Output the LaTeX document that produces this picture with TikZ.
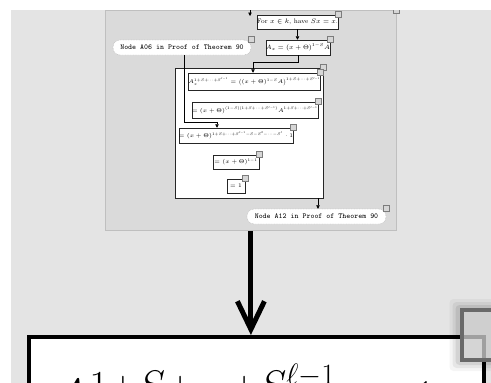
\RequirePackage{fix-cm}
\documentclass[tikz,border=0pt]{standalone}
\usepackage{amsmath}
\usetikzlibrary{arrows.meta,calc,shadows}
\definecolor{canvas}{HTML}{E4E4E4}
\definecolor{panelfill}{HTML}{DADADA}
\definecolor{panelline}{HTML}{BFBFBF}
\definecolor{gripfill}{HTML}{D6D6D6}
\definecolor{gripline}{HTML}{7C7C7C}
\tikzset{
  stepbox/.style={draw=black!85, fill=white, line width=0.5pt, inner sep=0pt,
    drop shadow={shadow xshift=0.6pt, shadow yshift=-0.6pt, opacity=0.2},
    font=\fontsize{5.5}{6}\selectfont},
  pill/.style={draw=black!30, dash pattern=on 0.8pt off 0.8pt, fill=white,
    rounded corners=7pt, inner sep=0pt,
    font=\fontsize{7.5}{8}\selectfont\ttfamily},
  chainbox/.style={draw=black!85, fill=white, line width=0.5pt, inner sep=0pt},
  groupbox/.style={draw=panelline, fill=panelfill, line width=0.8pt, inner sep=0pt},
  conn/.style={draw=black, line width=0.6pt, -{Triangle[length=3.5pt,width=3.5pt]}},
  grip/.style={draw=gripline, fill=gripfill, line width=0.7pt},
  bigbox/.style={draw=black, line width=4pt, fill=white, align=left,
    inner xsep=17pt, inner ysep=27pt, font=\fontsize{59}{64}\selectfont},
}
\begin{document}
\begin{tikzpicture}[x=1pt,y=-1pt]
\useasboundingbox (0,0) rectangle (491,383);
\fill[canvas] (11,10) rectangle (491,383);
\begin{scope}
\clip (11,10) rectangle (491,383);

% the group frame and the edge entering it from above
\node[groupbox, anchor=north west, minimum width=291pt, minimum height=220pt] (group) at (105,10) {};
\coordinate (inTop) at (250,0);
\coordinate (inEnd) at (250,16);
\draw[conn] (inTop) -- (inEnd);

% steps inside the group
\node[stepbox, minimum width=71pt, minimum height=14pt, font=\fontsize{6.5}{7}\selectfont] (fix) at (297.5,22) {For $x\in k$, have $Sx=x$.};
\node[stepbox, minimum width=62pt, minimum height=15pt, font=\fontsize{6.3}{7}\selectfont] (ax) at (298,47.5) {$A_x=(x+\Theta)^{1-S}A$};
\node[pill, minimum width=138pt, minimum height=15pt] (a06) at (182,47.5) {Node A06 in Proof of Theorem 90};

\node[chainbox, minimum width=148pt, minimum height=130pt] (chain) at (249,133) {};
\node[stepbox, minimum width=129pt, minimum height=17pt] (e1) at (254.5,81.5)
  {$A_x^{1+S+\cdots+S^{\ell-1}}=\bigl((x+\Theta)^{1-S}A\bigr)^{1+S+\cdots+S^{\ell-1}}$};
\node[stepbox, minimum width=124pt, minimum height=16pt] (e2) at (255,110)
  {$=(x+\Theta)^{(1-S)(1+S+\cdots+S^{\ell-1})}A^{1+S+\cdots+S^{\ell-1}}$};
\node[stepbox, minimum width=110pt, minimum height=15pt] (e3) at (236,135.5)
  {$=(x+\Theta)^{1+S+\cdots+S^{\ell-1}-S-S^2-\cdots-S^{\ell}}\cdot 1$};
\node[stepbox, minimum width=46pt, minimum height=14pt] (e4) at (236,162) {$=(x+\Theta)^{1-1}$};
\node[stepbox, minimum width=18pt, minimum height=14pt] (e5) at (236,186) {$=1$};

\node[pill, minimum width=139pt, minimum height=15pt] (a12) at (316.5,216.5) {Node A12 in Proof of Theorem 90};

% connectors inside the group
\draw[conn] (fix.south) -- (fix.south |- ax.north);
\coordinate (j1) at (253,62);
\draw[conn] (ax.south) |- (j1) -- (j1 |- e1.north);
\coordinate (a06out) at ($(a06.south)+(2,0)$);
\coordinate (j2) at (217,122);
\draw[conn] (a06out) |- (j2) -- (j2 |- e3.north);
\coordinate (chainout) at ($(a12.north |- chain.south)+(1.5,0)$);
\draw[conn] (chainout) -- (chainout |- a12.north);

% the enlarged result box below
\node[bigbox, anchor=north west, minimum width=454.5pt, text width=420.5pt] (sum) at (27,335)
  {$A^{1+S+\cdots+S^{\ell-1}}=1$};
\draw[line width=5pt, -{Straight Barb[length=28pt,width=27pt]}] (group.south) -- (group.south |- sum.north);

% resize grips on the top right corners
\foreach \n in {fix,ax,a06,chain,e1,e2,e3,e4,e5,a12,group}
  \draw[grip] ($(\n.north east)+(-3,-3)$) rectangle ++(6,6);
\foreach \s/\o in {10/0.04,7/0.06,4/0.08}
  \fill[black, opacity=\o, rounded corners=4pt] ($(sum.north east)+(-26-\s,-26-\s)$) rectangle ++(52+2*\s,52+2*\s);
\draw[draw=gripline!85!black, line width=4pt, fill=gripfill, fill opacity=0.75]
  ($(sum.north east)+(-24,-25)$) rectangle ++(48,50);
\end{scope}
\end{tikzpicture}
\end{document}
